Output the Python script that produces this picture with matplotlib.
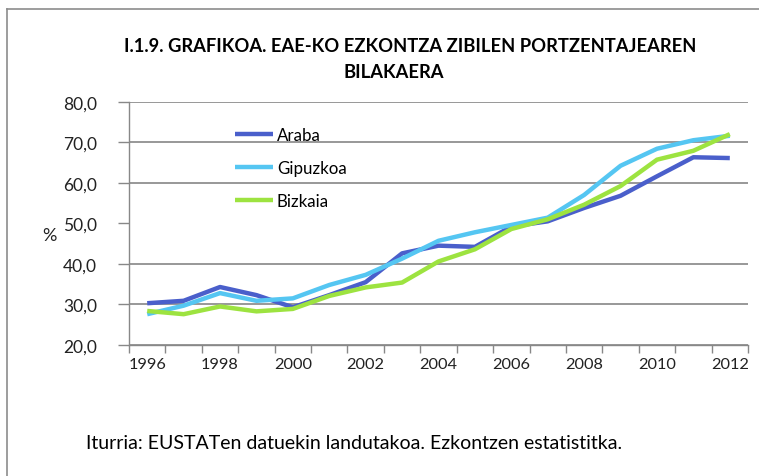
import numpy as np
import matplotlib
matplotlib.use('Agg')
import matplotlib.pyplot as plt
from matplotlib.lines import Line2D

plt.rcParams['font.family'] = ['Lato', 'DejaVu Sans']

# Datuak (urteko portzentajeak)
years = list(range(1996, 2013))
araba = [30.3, 30.9, 34.3, 32.3, 29.3, 32.3, 35.5, 42.6, 44.5, 44.2, 49.2, 50.5, 53.8, 56.8, 61.6, 66.3, 66.1]
gipuzkoa = [27.6, 29.7, 32.8, 30.9, 31.5, 34.8, 37.3, 41.3, 45.7, 47.8, 49.6, 51.4, 57.0, 64.2, 68.4, 70.5, 71.6]
bizkaia = [28.4, 27.6, 29.5, 28.3, 28.9, 32.1, 34.2, 35.4, 40.6, 43.6, 48.6, 51.0, 54.6, 59.2, 65.7, 67.9, 72.0]
series_names = ['Araba', 'Gipuzkoa', 'Bizkaia']
colors = ['#4a5fcb', '#55c6f2', '#9de340']
yticks = [20, 30, 40, 50, 60, 70, 80]
title1 = 'I.1.9. GRAFIKOA. EAE-KO EZKONTZA ZIBILEN PORTZENTAJEAREN'
title2 = 'BILAKAERA'
source = 'Iturria: EUSTATen datuekin landutakoa. Ezkontzen estatistitka.'

W, H = 759, 477
fig = plt.figure(figsize=(W / 100, H / 100), dpi=100)
ax = fig.add_axes([129 / W, 1 - 346 / H, 619 / W, (346 - 102.7) / H])

x = np.arange(len(years))
for name, vals, c in zip(series_names, [araba, gipuzkoa, bizkaia], colors):
    ax.plot(x, vals, color=c, lw=3.2, label=name, solid_capstyle='butt')

ax.set_xlim(-0.5, len(years) - 0.5)
ax.set_ylim(20, 80)
ax.set_yticks(yticks)
ax.set_yticklabels([f'{v:.1f}'.replace('.', ',') for v in yticks], fontsize=12.5, color='#222222')

# kategoria ardatza: marrak kategorien artean, etiketak erdian
ax.set_xticks(np.arange(-0.5, len(years), 1))
ax.set_xticklabels([])
ax.set_xticks(x[::2], minor=True)
ax.set_xticklabels([str(y) for y in years[::2]], minor=True, fontsize=11.8, color='#222222')
ax.tick_params(axis='x', which='major', length=6, color='#888888', width=1)
ax.tick_params(axis='x', which='minor', length=0, pad=9)
ax.tick_params(axis='y', length=8, color='#888888', width=1, pad=15)

ax.grid(axis='y', color='#868686', lw=1.2)
ax.yaxis.get_gridlines()[3].set_visible(False)
ax.set_axisbelow(True)
for s in ['top', 'right']:
    ax.spines[s].set_visible(False)
for s in ['left', 'bottom']:
    ax.spines[s].set_color('#888888')
    ax.spines[s].set_linewidth(1)

ax.legend(loc='upper left', bbox_to_anchor=(0.172, 0.897), frameon=False, fontsize=12.2,
          handlelength=2.2, handletextpad=0.25, labelspacing=1.0, borderpad=0, borderaxespad=0)

fig.text(49 / W, 1 - 236 / H, '%', fontsize=13, ha='center', va='center', color='#222222')
fig.text(410 / W, 1 - 47 / H, title1, fontsize=13.2, fontweight='bold', ha='center', va='center')
fig.text(394 / W, 1 - 72 / H, title2, fontsize=13.2, fontweight='bold', ha='center', va='center')
fig.text(86 / W, 1 - 444 / H, source, fontsize=14, ha='left', va='center')

# kanpoko ertza
fig.add_artist(Line2D([7 / W, 7 / W], [0, 1 - 10 / H], color='#8c8c8c', lw=1.2, transform=fig.transFigure))
fig.add_artist(Line2D([7 / W, 1], [1 - 10 / H, 1 - 10 / H], color='#8c8c8c', lw=1.2, transform=fig.transFigure))

fig.savefig('out.png', dpi=100)
